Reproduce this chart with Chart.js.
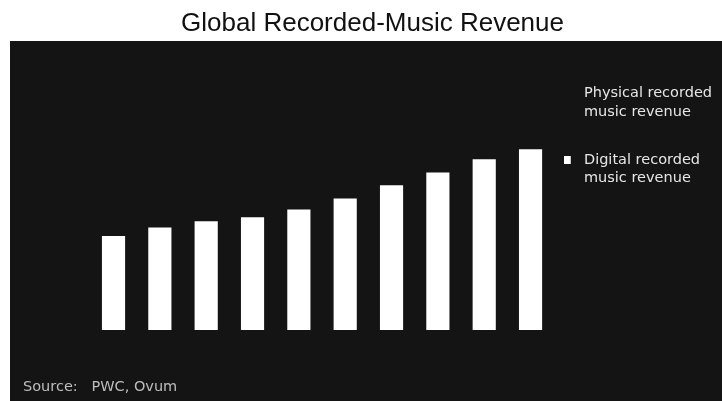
<!DOCTYPE html>
<html>
<head>
<meta charset="utf-8">
<script src="https://cdn.jsdelivr.net/npm/chart.js@4.4.0/dist/chart.umd.min.js"></script>
<style>
  html, body { margin: 0; padding: 0; background: #ffffff; }
  #wrap { width: 722px; height: 401px; }
</style>
</head>
<body>
<div id="wrap"><canvas id="c" width="722" height="401"></canvas></div>
<script>
// ---- data (units: US$ billions, estimated) ----
const categories = ['2014', '2015', '2016', '2017', '2018', '2019', '2020', '2021', '2022', '2023'];
const digitalRevenue = [9.25, 10.1, 10.7, 11.1, 11.85, 12.95, 14.25, 15.5, 16.8, 17.8];
const physicalRevenue = [null, null, null, null, null, null, null, null, null, null];
const seriesNames = [['Physical recorded', 'music revenue', ''], ['Digital recorded', 'music revenue']];
const titleText = 'Global Recorded-Music Revenue';
const sourceText = 'Source:   PWC, Ovum';

const PANEL = '#141414';

function swatch(color) {
  const c = document.createElement('canvas');
  c.width = 13; c.height = 8;
  const g = c.getContext('2d');
  g.fillStyle = color;
  g.fillRect(0, 0, 7, 8);
  return c;
}

const panelPlugin = {
  id: 'panel',
  beforeDraw(chart) {
    const ctx = chart.ctx;
    ctx.save();
    ctx.fillStyle = '#ffffff';
    ctx.fillRect(0, 0, chart.width, chart.height);
    ctx.fillStyle = PANEL;
    ctx.fillRect(10, 41, chart.width - 10, chart.height - 41);
    ctx.restore();
  }
};

new Chart(document.getElementById('c'), {
  type: 'bar',
  data: {
    labels: categories,
    datasets: [
      { label: 'Physical recorded music revenue', data: physicalRevenue, backgroundColor: PANEL },
      { label: 'Digital recorded music revenue', data: digitalRevenue, backgroundColor: '#ffffff' }
    ]
  },
  options: {
    responsive: false,
    animation: false,
    devicePixelRatio: 1,
    layout: { padding: { left: 23, right: 0, top: 0, bottom: 0 } },
    datasets: { bar: { barPercentage: 0.5, categoryPercentage: 1.0 } },
    scales: {
      x: { stacked: true, display: false },
      y: {
        stacked: true, min: 0, max: 25, display: true,
        ticks: { display: false }, grid: { display: false }, border: { display: false },
        afterFit(scale) { scale.width = 67.35; }
      }
    },
    plugins: {
      title: {
        display: true, text: titleText, color: '#111111',
        font: { family: '"Liberation Sans", Arial, sans-serif', size: 26, weight: 'normal', lineHeight: 1.2 },
        padding: { top: 8, bottom: 36.8 }
      },
      subtitle: {
        display: true, text: sourceText, position: 'bottom', align: 'start', color: '#bdbdbd',
        font: { family: '"DejaVu Sans", sans-serif', size: 14.5, weight: 'normal', lineHeight: 1.2 },
        padding: { top: 48.3, bottom: 5.3 }
      },
      legend: {
        display: true, position: 'right', align: 'start', fullSize: false,
        labels: {
          usePointStyle: true, pointStyleWidth: 13, padding: 10, color: '#e6e6e6',
          font: { family: '"DejaVu Sans", sans-serif', size: 14.5, lineHeight: 1.3 },
          generateLabels(chart) {
            return chart.data.datasets.map((ds, i) => ({
              text: seriesNames[i],
              fillStyle: ds.backgroundColor,
              strokeStyle: ds.backgroundColor,
              lineWidth: 0,
              pointStyle: swatch(ds.backgroundColor),
              fontColor: '#e6e6e6',
              hidden: false,
              datasetIndex: i
            }));
          }
        }
      },
      tooltip: { enabled: false }
    }
  },
  plugins: [panelPlugin]
});
</script>
</body>
</html>
